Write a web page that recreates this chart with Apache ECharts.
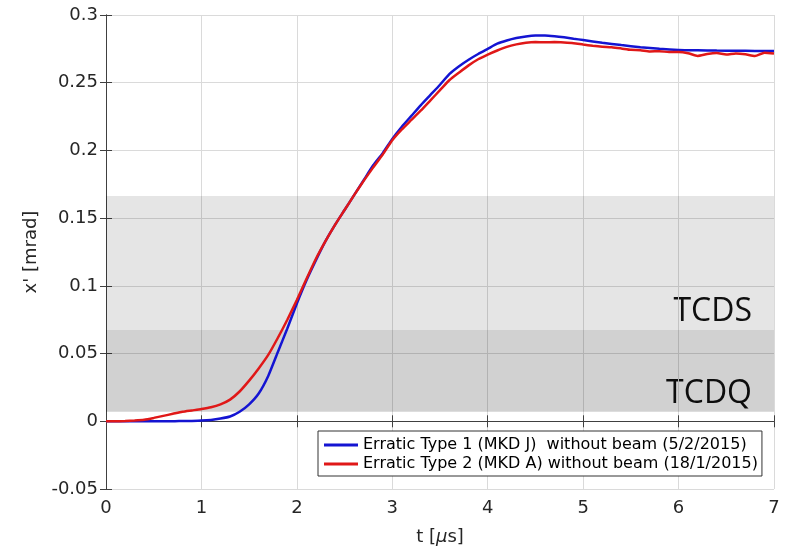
<!DOCTYPE html>
<html>
<head>
<meta charset="utf-8">
<script src="https://cdn.jsdelivr.net/npm/echarts@6/dist/echarts.min.js"></script>
<style>html,body{margin:0;padding:0;background:#fff;}#c{width:795px;height:548px;}</style>
</head>
<body>
<div id="c"></div>
<script>
// ---- data ----
var tBlue = [0,0.1,0.2,0.3,0.4,0.5,0.6,0.7,0.8,0.9,1.0,1.1,1.2,1.3,1.4,1.5,1.6,1.7,1.8,1.9,2.0,2.1,2.2,2.3,2.4,2.5,2.6,2.7,2.8,2.9,3.0,3.1,3.2,3.3,3.4,3.5,3.6,3.7,3.8,3.9,4.0,4.1,4.2,4.3,4.4,4.5,4.6,4.7,4.8,4.9,5.0,5.2,5.4,5.6,5.8,6.0,6.2,6.4,6.6,6.8,7.0];
var xBlue = [0,0,0,0,0,0,0,0,0.0002,0.0003,0.0005,0.001,0.002,0.0035,0.007,0.0125,0.0205,0.0335,0.051,0.0685,0.087,0.104,0.119,0.133,0.145,0.156,0.167,0.178,0.189,0.198,0.2085,0.2175,0.2255,0.2335,0.241,0.2485,0.2565,0.2622,0.267,0.2712,0.275,0.2788,0.2812,0.283,0.2842,0.2848,0.2848,0.2843,0.2835,0.2825,0.2815,0.2795,0.2778,0.2762,0.275,0.2742,0.2739,0.2737,0.2736,0.2735,0.2734];
var tRed = [0,0.1,0.2,0.3,0.4,0.5,0.6,0.7,0.8,0.9,1.0,1.1,1.2,1.3,1.4,1.5,1.6,1.7,1.8,1.9,2.0,2.1,2.2,2.3,2.4,2.5,2.6,2.7,2.8,2.9,3.0,3.1,3.2,3.3,3.4,3.5,3.6,3.7,3.8,3.9,4.0,4.1,4.2,4.3,4.4,4.5,4.6,4.7,4.8,4.9,5.0,5.1,5.2,5.3,5.4,5.5,5.6,5.7,5.8,5.9,6.0,6.1,6.2,6.3,6.4,6.5,6.6,6.7,6.8,6.9,7.0];
var xRed = [0,0,0.0002,0.0006,0.0012,0.0025,0.004,0.0055,0.007,0.008,0.009,0.0103,0.0125,0.016,0.022,0.030,0.039,0.049,0.0615,0.075,0.0895,0.105,0.12,0.133,0.145,0.156,0.167,0.1775,0.1875,0.197,0.2075,0.2155,0.2225,0.2295,0.237,0.2445,0.252,0.2575,0.2628,0.2673,0.2708,0.2738,0.2765,0.2783,0.2795,0.28,0.2799,0.28,0.2797,0.2792,0.2782,0.2773,0.2766,0.2762,0.2753,0.2743,0.274,0.2731,0.2733,0.2726,0.2727,0.2718,0.2698,0.2712,0.2719,0.2708,0.2716,0.271,0.2697,0.2722,0.2716];
var bandTCDS = [0.0674, 0.1664];
var bandTCDQ = [0.0071, 0.0674];
var bandNames = ['TCDS', 'TCDQ'];
var seriesNames = ['Erratic Type 1 (MKD J)  without beam (5/2/2015)', 'Erratic Type 2 (MKD A) without beam (18/1/2015)'];
var xTicks = {min: 0, max: 7, interval: 1};
var yTicks = {min: -0.05, max: 0.3, interval: 0.05};

function pairs(t, v) { return t.map(function (x, i) { return [x, v[i]]; }); }

var chart = echarts.init(document.getElementById('c'), null, {renderer: 'canvas'});
var axisColor = '#404040';
var font = 'DejaVu Sans';
var option = {
  animation: false,
  backgroundColor: '#fff',
  grid: {left: 106, right: 21, top: 15, bottom: 59, containLabel: false, outerBoundsMode: 'none'},
  xAxis: [{
    type: 'value', min: xTicks.min, max: xTicks.max, interval: xTicks.interval, position: 'bottom',
    axisLine: {show: true, lineStyle: {color: axisColor, width: 1}},
    axisTick: {show: true, inside: true, length: 6, lineStyle: {color: axisColor}},
    axisLabel: {color: '#262626', fontFamily: font, fontSize: 18, margin: 10},
    splitLine: {show: true, lineStyle: {color: '#dadada', width: 1}},
    name: 't [{it|μ}s]', nameLocation: 'middle', nameGap: 39,
    nameTextStyle: {color: '#262626', fontFamily: font, fontSize: 18, rich: {it: {fontFamily: font, fontSize: 18, fontStyle: 'italic', color: '#262626'}}}
  }, {
    type: 'value', min: xTicks.min, max: xTicks.max, interval: xTicks.interval, position: 'top',
    axisLine: {show: true, lineStyle: {color: axisColor, width: 1}},
    axisTick: {show: true, inside: true, length: 6, lineStyle: {color: axisColor}},
    axisLabel: {show: false}, splitLine: {show: false}
  }],
  yAxis: [{
    type: 'value', min: yTicks.min, max: yTicks.max, interval: yTicks.interval, position: 'left',
    axisLine: {show: true, lineStyle: {color: axisColor, width: 1}},
    axisTick: {show: true, inside: true, length: 6, lineStyle: {color: axisColor}},
    axisLabel: {color: '#262626', fontFamily: font, fontSize: 18, margin: 8,
      formatter: function (v) { return String(+v.toFixed(2)); }},
    splitLine: {show: true, lineStyle: {color: '#dadada', width: 1}},
    name: "x' [mrad]", nameLocation: 'middle', nameGap: 52, nameRotate: 90,
    nameTextStyle: {color: '#262626', fontFamily: font, fontSize: 18}
  }, {
    type: 'value', min: yTicks.min, max: yTicks.max, interval: yTicks.interval, position: 'right',
    axisLine: {show: true, lineStyle: {color: axisColor, width: 1}},
    axisTick: {show: true, inside: true, length: 6, lineStyle: {color: axisColor}},
    axisLabel: {show: false}, splitLine: {show: false}
  }],
  legend: {
    orient: 'vertical', left: 318, top: 431, icon: 'rect', itemWidth: 34, itemHeight: 3,
    itemGap: 1, padding: [5, 4, 3, 6],
    backgroundColor: '#fff', borderColor: '#333', borderWidth: 1, borderRadius: 0,
    textStyle: {fontFamily: font, fontSize: 16, color: '#000', lineHeight: 18},
    data: seriesNames
  },
  series: [{
    name: 'bands', type: 'line', data: [], z: 1, silent: true,
    markArea: {
      silent: true,
      label: {show: false},
      data: [
        [{coord: [xTicks.min, bandTCDS[0]], itemStyle: {color: 'rgba(0,0,0,0.1)'}}, {coord: [xTicks.max, bandTCDS[1]]}],
        [{coord: [xTicks.min, bandTCDQ[0]], itemStyle: {color: 'rgba(0,0,0,0.18)'}}, {coord: [xTicks.max, bandTCDQ[1]]}]
      ]
    }
  }, {
    name: seriesNames[0], type: 'line', data: pairs(tBlue, xBlue), showSymbol: false, symbol: 'none', z: 3,
    color: '#1414d2', lineStyle: {color: '#1414d2', width: 2.5}, smooth: 0.2
  }, {
    name: seriesNames[1], type: 'line', data: pairs(tRed, xRed), showSymbol: false, symbol: 'none', z: 4,
    color: '#e01818', lineStyle: {color: '#e01818', width: 2.5}, smooth: 0.2
  }],
  graphic: [
    {type: 'text', right: 43, top: 296, style: {text: bandNames[0], font: '32px "Open Sans"', fill: '#111'}},
    {type: 'text', right: 43, top: 378, style: {text: bandNames[1], font: '32px "Open Sans"', fill: '#111'}}
  ]
};
chart.setOption(option);
</script>
</body>
</html>
